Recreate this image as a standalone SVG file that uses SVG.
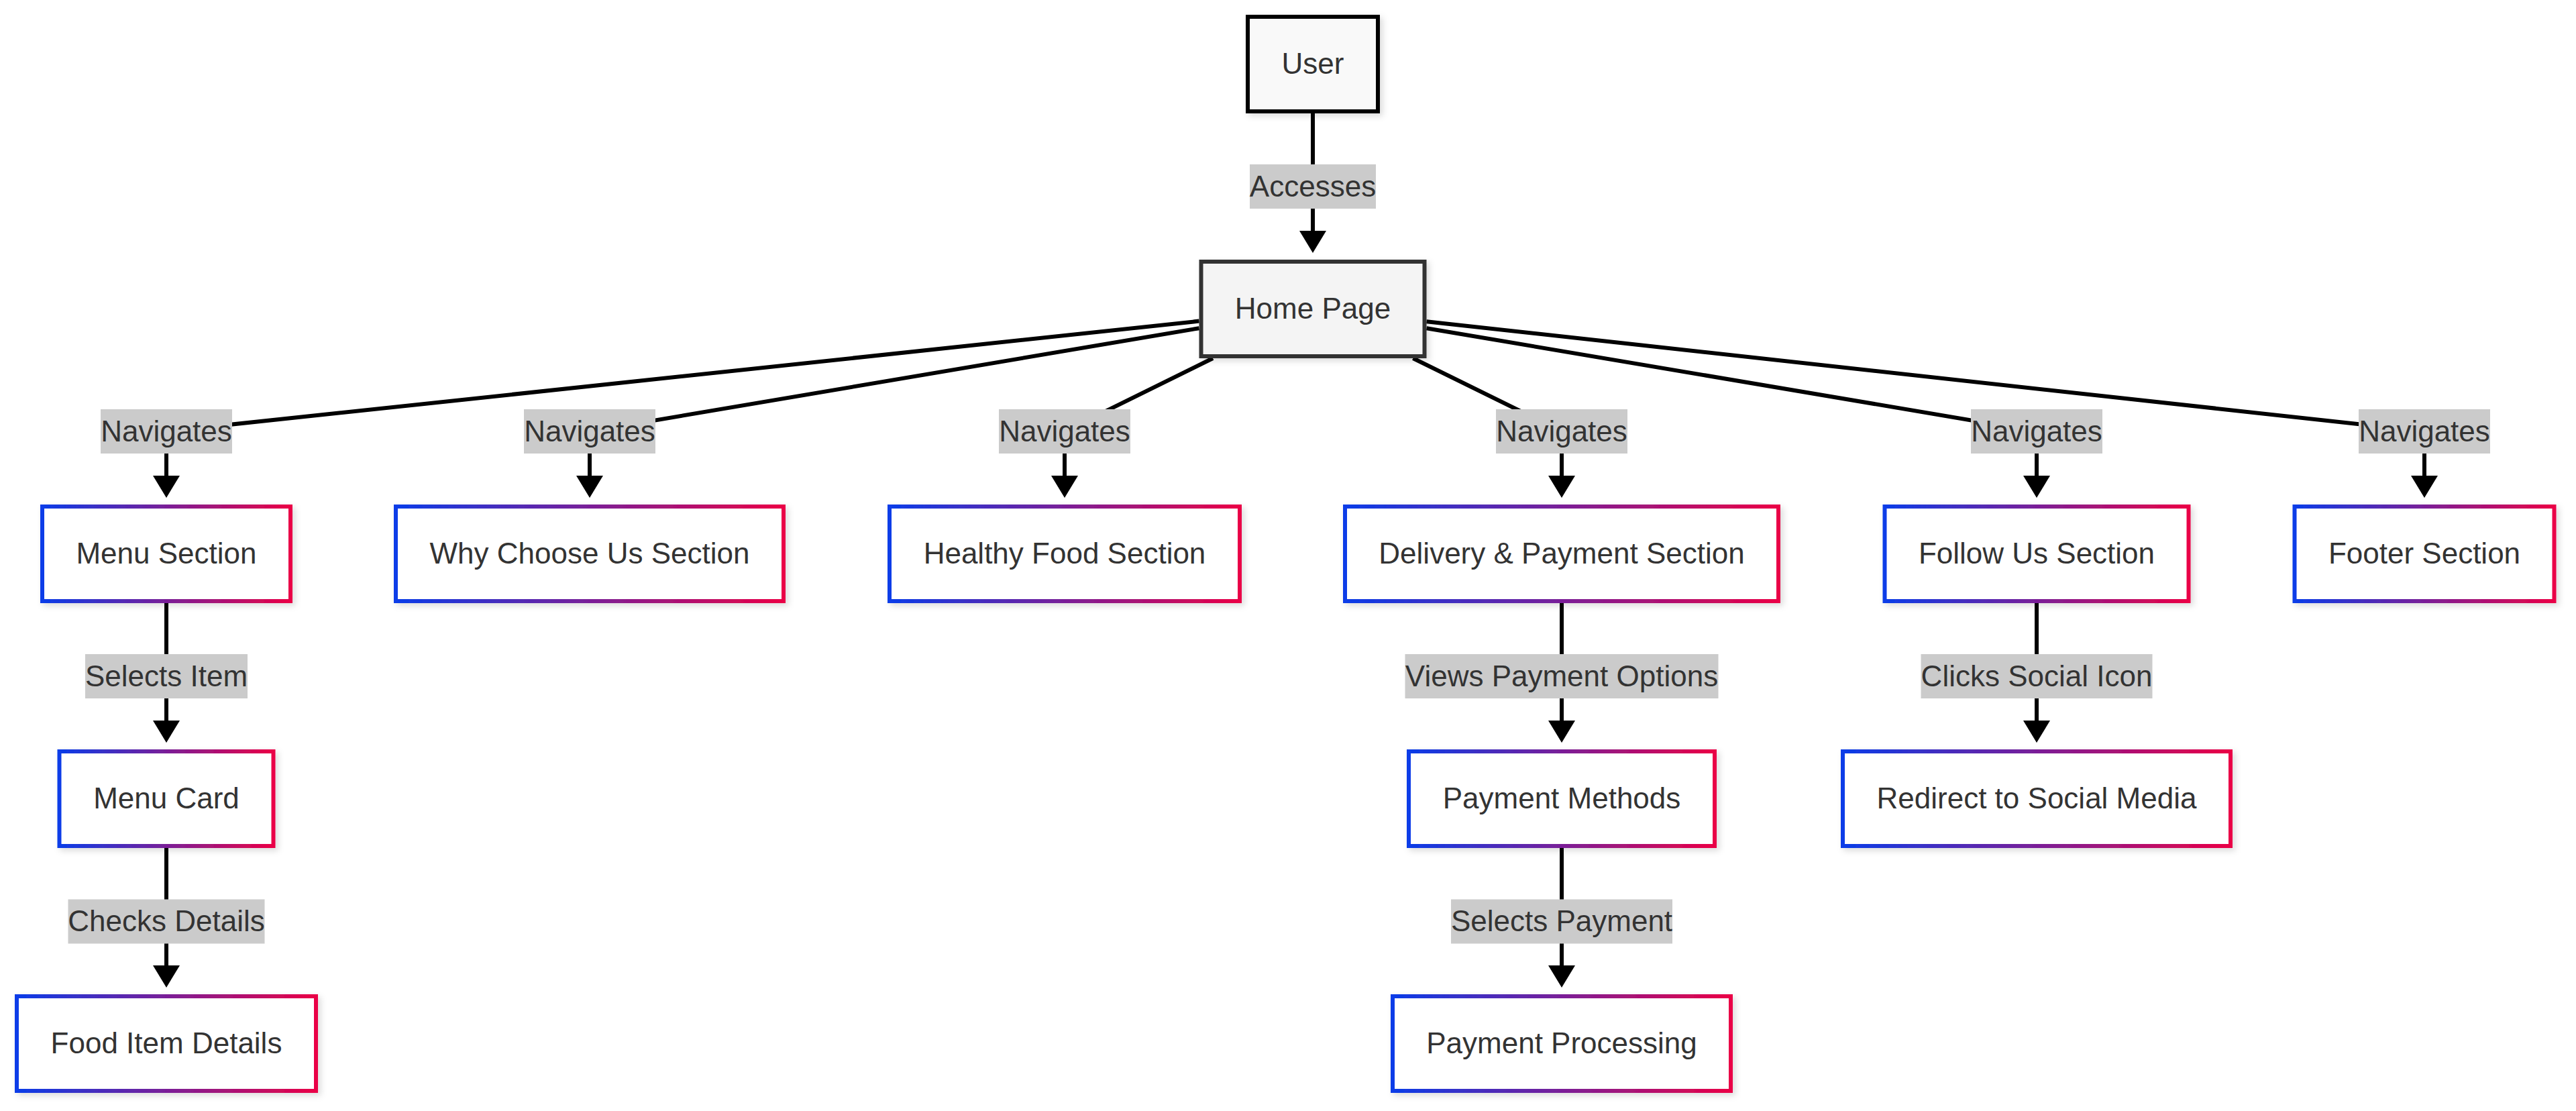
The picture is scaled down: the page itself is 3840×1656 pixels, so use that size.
<svg xmlns="http://www.w3.org/2000/svg" width="3840" height="1656" viewBox="0 0 3840 1656">
<defs>
<linearGradient id="grad" x1="0" y1="0" x2="1" y2="0">
<stop offset="0" stop-color="#0a3ce8"/>
<stop offset="0.5" stop-color="#7a1f98"/>
<stop offset="1" stop-color="#ea0046"/>
</linearGradient>
<filter id="shadow" x="-10%" y="-20%" width="130%" height="150%">
<feDropShadow dx="4" dy="4" stdDeviation="5" flood-color="#000" flood-opacity="0.14"/>
</filter>
<marker id="arrow" viewBox="0 0 33 40" refX="0" refY="20" markerWidth="33" markerHeight="40" markerUnits="userSpaceOnUse" orient="auto">
<path d="M0,0 L33,20 L0,40 z" fill="#000"/>
</marker>
<style>
.edge{fill:none;stroke:#000;stroke-width:6;marker-end:url(#arrow)}
.lbg{fill:#cbcbcb}
.txt{font-family:"Liberation Sans",Arial,sans-serif;font-size:44px;fill:#333;text-anchor:middle}
.sec{fill:#fff;stroke:url(#grad);stroke-width:6;filter:url(#shadow)}
</style>
</defs>
<rect width="3840" height="1656" fill="#fff"/>
<g id="connectors">
<path class="edge" d="M1957,169 L1957,344"/>
<path class="edge" d="M1787.5,478.6 L248,643 L248,709"/>
<path class="edge" d="M1787.5,489.2 L879,643 L879,709"/>
<path class="edge" d="M1808,534 L1587,643 L1587,709"/>
<path class="edge" d="M2106.4,534 L2328,643 L2328,709"/>
<path class="edge" d="M2126.5,489.2 L3036,643 L3036,709"/>
<path class="edge" d="M2126.5,479.2 L3614,643 L3614,709"/>
<path class="edge" d="M248,899 L248,1074"/>
<path class="edge" d="M2328,899 L2328,1074"/>
<path class="edge" d="M3036,899 L3036,1074"/>
<path class="edge" d="M248,1264 L248,1439"/>
<path class="edge" d="M2328,1264 L2328,1439"/>
<g id="edge-labels">
<rect class="lbg" x="1863" y="245" width="188" height="66"/><text class="txt" x="1957" y="292.5">Accesses</text>
<rect class="lbg" x="150" y="610" width="196" height="66"/><text class="txt" x="248" y="657.5">Navigates</text>
<rect class="lbg" x="781" y="610" width="196" height="66"/><text class="txt" x="879" y="657.5">Navigates</text>
<rect class="lbg" x="1489" y="610" width="196" height="66"/><text class="txt" x="1587" y="657.5">Navigates</text>
<rect class="lbg" x="2230" y="610" width="196" height="66"/><text class="txt" x="2328" y="657.5">Navigates</text>
<rect class="lbg" x="2938" y="610" width="196" height="66"/><text class="txt" x="3036" y="657.5">Navigates</text>
<rect class="lbg" x="3516" y="610" width="196" height="66"/><text class="txt" x="3614" y="657.5">Navigates</text>
<rect class="lbg" x="127" y="975" width="242" height="66"/><text class="txt" x="248" y="1022.5">Selects Item</text>
<rect class="lbg" x="2094.5" y="975" width="467" height="66"/><text class="txt" x="2328" y="1022.5">Views Payment Options</text>
<rect class="lbg" x="2863.5" y="975" width="345" height="66"/><text class="txt" x="3036" y="1022.5">Clicks Social Icon</text>
<rect class="lbg" x="101.5" y="1340.5" width="293" height="66"/><text class="txt" x="248" y="1388">Checks Details</text>
<rect class="lbg" x="2163" y="1340.5" width="330" height="66"/><text class="txt" x="2328" y="1388">Selects Payment</text>
</g>
</g>
<g id="user"><rect x="1860" y="25" width="194" height="141" fill="#f9f9f9" stroke="#000" stroke-width="6" filter="url(#shadow)"/><text class="txt" x="1957" y="110">User</text></g>
<g id="home"><rect x="1790.5" y="390" width="333" height="141" fill="#f4f4f4" stroke="#333" stroke-width="6" filter="url(#shadow)"/><text class="txt" x="1957" y="475">Home Page</text></g>
<g id="menu-section"><rect class="sec" x="63" y="755" width="370" height="141"/><text class="txt" x="248" y="840">Menu Section</text></g>
<g id="why-choose-us"><rect class="sec" x="590" y="755" width="578" height="141"/><text class="txt" x="879" y="840">Why Choose Us Section</text></g>
<g id="healthy-food"><rect class="sec" x="1326" y="755" width="522" height="141"/><text class="txt" x="1587" y="840">Healthy Food Section</text></g>
<g id="delivery-payment"><rect class="sec" x="2005" y="755" width="646" height="141"/><text class="txt" x="2328" y="840">Delivery &amp; Payment Section</text></g>
<g id="follow-us"><rect class="sec" x="2809.5" y="755" width="453" height="141"/><text class="txt" x="3036" y="840">Follow Us Section</text></g>
<g id="footer"><rect class="sec" x="3420.5" y="755" width="387" height="141"/><text class="txt" x="3614" y="840">Footer Section</text></g>
<g id="menu-card"><rect class="sec" x="88.5" y="1120" width="319" height="141"/><text class="txt" x="248" y="1205">Menu Card</text></g>
<g id="payment-methods"><rect class="sec" x="2100" y="1120" width="456" height="141"/><text class="txt" x="2328" y="1205">Payment Methods</text></g>
<g id="redirect-social"><rect class="sec" x="2747" y="1120" width="578" height="141"/><text class="txt" x="3036" y="1205">Redirect to Social Media</text></g>
<g id="food-item-details"><rect class="sec" x="25" y="1485" width="446" height="141"/><text class="txt" x="248" y="1570">Food Item Details</text></g>
<g id="payment-processing"><rect class="sec" x="2076" y="1485" width="504" height="141"/><text class="txt" x="2328" y="1570">Payment Processing</text></g>
</svg>
